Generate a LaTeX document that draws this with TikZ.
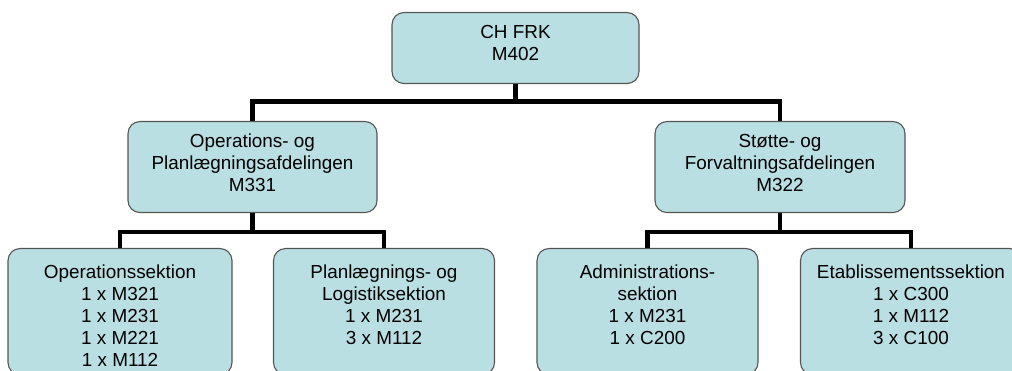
\documentclass[tikz,border=0pt]{standalone}
\usepackage{fontspec}
\usepackage{tikz}
\newfontfamily\orgfont{Liberation Sans}
\definecolor{boxcyan}{RGB}{186,223,227}
\definecolor{edgegray}{RGB}{85,85,85}

\begin{document}
\begin{tikzpicture}[x=1pt, y=1pt]
        % Define the styles for units and links
        \tikzstyle{unit}=[rectangle, rounded corners=12pt, draw=edgegray, line width=1.1pt, fill=boxcyan, align=center, inner sep=0pt, anchor=north, font=\orgfont\fontsize{18.9}{22.2}\selectfont]
        \tikzstyle{toplevel}=[unit, text height=48.2pt, text depth=22.8pt]
        \tikzstyle{division}=[unit, text height=70.4pt, text depth=20.6pt]
        \tikzstyle{section}=[unit, minimum width=221pt, text height=96.1pt, text depth=29.9pt]
        \tikzstyle{link}=[line width=4.5pt, black]

        \clip (0,0) rectangle (1012,-371);

        % Define the nodes
        \node[toplevel, minimum width=247pt] (chfrk) at (515.5,-12) {CH FRK\\M402};
        \node[division, minimum width=249pt] (opdiv) at (252.5,-121) {Operations- og\\Planlægningsafdelingen\\M331};
        \node[division, minimum width=250pt] (stdiv) at (780,-121) {Støtte- og\\Forvaltningsafdelingen\\M322};
        \node[section, minimum width=224pt, text height=118.3pt, text depth=7.7pt] (opsek) at (120,-248) {Operationssektion\\1 x M321\\1 x M231\\1 x M221\\1 x M112};
        \node[section] (lgsek) at (384,-248) {Planlægnings- og\\Logistiksektion\\1 x M231\\3 x M112};
        \node[section] (adsek) at (647.5,-248) {Administrations-\\sektion\\1 x M231\\1 x C200};
        \node[section] (etsek) at (911,-248) {Etablissementssektion\\1 x C300\\1 x M112\\3 x C100};

        % Define the links from the top
        \draw[link] (chfrk.south) -- ++(0,-17.5) -| (opdiv.north);
        \draw[link] (chfrk.south) -- ++(0,-17.5) -| (stdiv.north);

        % Define the links to the sections
        \draw[link] (opdiv.south) -- ++(0,-19) -| (opsek.north);
        \draw[link] (opdiv.south) -- ++(0,-19) -| (lgsek.north);
        \draw[link] (stdiv.south) -- ++(0,-19) -| (adsek.north);
        \draw[link] (stdiv.south) -- ++(0,-19) -| (etsek.north);
    \end{tikzpicture}
\end{document}
